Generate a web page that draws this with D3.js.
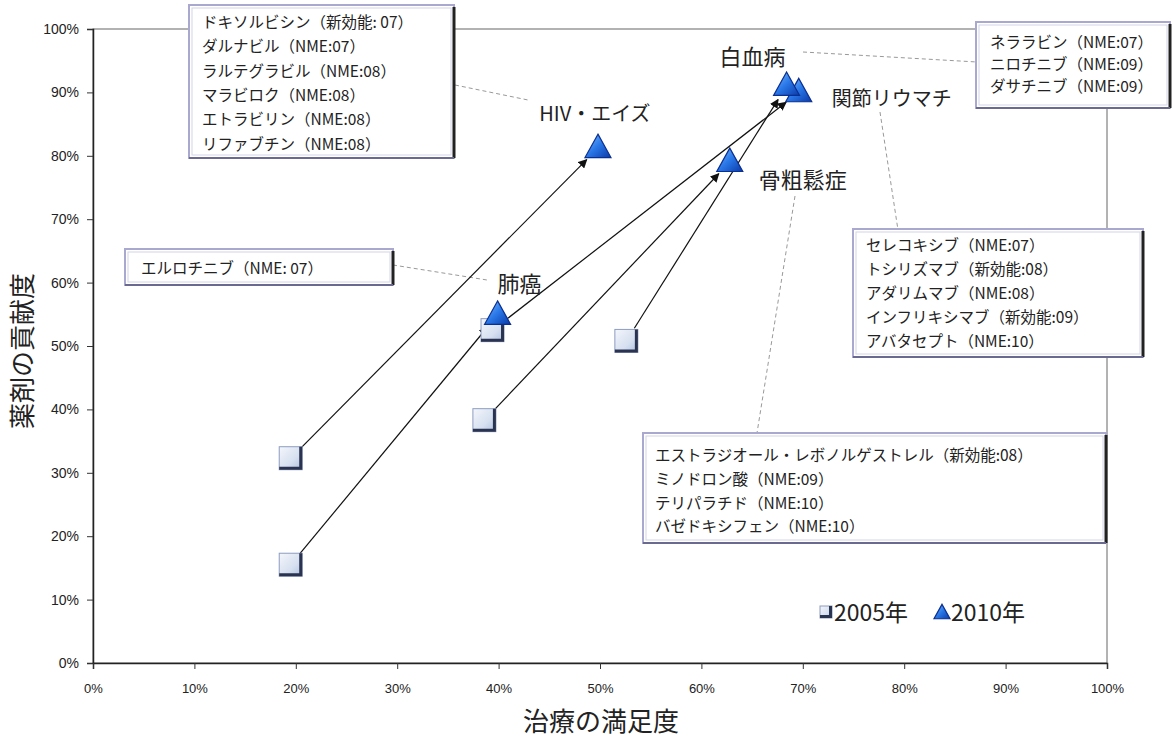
<!DOCTYPE html>
<html><head><meta charset="utf-8">
<script src="https://cdn.jsdelivr.net/npm/d3@7"></script>
<style>body{margin:0;background:#fff}svg{display:block}</style>
</head><body>
<svg id="c" width="1172" height="744"></svg>
<script>
// ---- data ----
const diseases = ["HIV・エイズ", "肺癌", "関節リウマチ", "骨粗鬆症", "白血病"];
const sat2005 = [0.195, 0.195, 0.394, 0.386, 0.526];
const con2005 = [0.323, 0.155, 0.525, 0.383, 0.508];
const sat2010 = [0.498, 0.399, 0.696, 0.628, 0.684];
const con2010 = [0.812, 0.549, 0.900, 0.790, 0.910];
const xTicks = [0, 0.1, 0.2, 0.3, 0.4, 0.5, 0.6, 0.7, 0.8, 0.9, 1.0];
const yTicks = [0, 0.1, 0.2, 0.3, 0.4, 0.5, 0.6, 0.7, 0.8, 0.9, 1.0];
const seriesNames = ["2005年", "2010年"];
const xTitle = "治療の満足度";
const yTitle = "薬剤の貢献度";
const drugsHIV = ["ドキソルビシン（新効能: 07）", "ダルナビル（NME:07）", "ラルテグラビル（NME:08）", "マラビロク（NME:08）", "エトラビリン（NME:08）", "リファブチン（NME:08）"];
const drugsLeuk = ["ネララビン（NME:07）", "ニロチニブ（NME:09）", "ダサチニブ（NME:09）"];
const drugsRA = ["セレコキシブ（NME:07）", "トシリズマブ（新効能:08）", "アダリムマブ（NME:08）", "インフリキシマブ（新効能:09）", "アバタセプト（NME:10）"];
const drugsOsteo = ["エストラジオール・レボノルゲストレル（新効能:08）", "ミノドロン酸（NME:09）", "テリパラチド（NME:10）", "バゼドキシフェン（NME:10）"];
const drugsLung = ["エルロチニブ（NME: 07）"];

// ---- layout ----
const svg = d3.select("#c");
const L = 93, R = 1107, T = 29, B = 663;
const x = d3.scaleLinear().domain([0, 1]).range([L, R]);
const y = d3.scaleLinear().domain([0, 1]).range([B, T]);
const jp = "'Noto Sans CJK JP','Noto Sans',sans-serif";
const lat = "'Liberation Sans',Arial,sans-serif";

const defs = svg.append("defs");
const gs = defs.append("linearGradient").attr("id", "gsq").attr("x1", 0).attr("y1", 0).attr("x2", 1).attr("y2", 1);
gs.append("stop").attr("offset", "0%").attr("stop-color", "#f4f6fb");
gs.append("stop").attr("offset", "60%").attr("stop-color", "#d6e0f0");
gs.append("stop").attr("offset", "100%").attr("stop-color", "#aebfdc");
const gt = defs.append("linearGradient").attr("id", "gtr").attr("x1", 0).attr("y1", 0).attr("x2", 1).attr("y2", 1);
gt.append("stop").attr("offset", "0%").attr("stop-color", "#7fc0ff");
gt.append("stop").attr("offset", "50%").attr("stop-color", "#2a78e8");
gt.append("stop").attr("offset", "100%").attr("stop-color", "#0a3aa8");
defs.append("marker").attr("id", "arr").attr("viewBox", "0 0 10 10").attr("refX", 9).attr("refY", 5)
  .attr("markerWidth", 9).attr("markerHeight", 9).attr("markerUnits", "userSpaceOnUse").attr("orient", "auto")
  .append("path").attr("d", "M0,0 L10,5 L0,10 Z").attr("fill", "#111");

// plot frame
svg.append("rect").attr("x", L).attr("y", T).attr("width", R - L).attr("height", B - T)
  .attr("fill", "none").attr("stroke", "#666").attr("stroke-width", 1);

// axes
const yAxis = d3.axisLeft(y).tickValues(yTicks).tickFormat(d3.format(".0%")).tickSize(6).tickPadding(8);
const gy = svg.append("g").attr("transform", `translate(${L},0)`).call(yAxis);
gy.select(".domain").attr("stroke", "#222").attr("stroke-width", 1.5);
gy.selectAll(".tick line").attr("stroke", "#333");
gy.selectAll("text").attr("font-family", lat).attr("font-size", 14).attr("fill", "#222");

const xAxis = d3.axisBottom(x).tickValues(xTicks).tickFormat(d3.format(".0%")).tickSize(6).tickPadding(15);
const gx = svg.append("g").attr("transform", `translate(0,${B})`).call(xAxis);
gx.select(".domain").attr("stroke", "#222").attr("stroke-width", 1.5);
gx.selectAll(".tick line").attr("stroke", "#333");
gx.selectAll("text").attr("font-family", lat).attr("font-size", 13).attr("fill", "#222");

svg.append("text").attr("x", 601).attr("y", 731).attr("text-anchor", "middle")
  .attr("font-family", jp).attr("font-size", 26).attr("fill", "#222").text(xTitle);
svg.append("text").attr("transform", "translate(32,351) rotate(-90)").attr("text-anchor", "middle")
  .attr("font-family", jp).attr("font-size", 26).attr("fill", "#222").text(yTitle);

// dashed connectors (label -> callout box)
const conn = [[455, 85, 528, 100], [803, 52, 977, 62], [880, 112, 898, 230], [795, 196, 757, 433], [393, 265, 487, 280]];
svg.append("g").selectAll("line").data(conn).join("line")
  .attr("x1", d => d[0]).attr("y1", d => d[1]).attr("x2", d => d[2]).attr("y2", d => d[3])
  .attr("stroke", "#999").attr("stroke-width", 1).attr("stroke-dasharray", "4,3");

// arrows
const idx = d3.range(diseases.length);
svg.append("g").selectAll("line").data(idx).join("line")
  .each(function (i) {
    const x0 = x(sat2005[i]), y0 = y(con2005[i]), x1 = x(sat2010[i]), y1 = y(con2010[i]);
    const dx = x1 - x0, dy = y1 - y0, len = Math.hypot(dx, dy);
    const ux = dx / len, uy = dy / len;
    d3.select(this).attr("x1", x0 + ux * 15).attr("y1", y0 + uy * 15)
      .attr("x2", x1 - ux * 16).attr("y2", y1 - uy * 16);
  })
  .attr("stroke", "#111").attr("stroke-width", 1.2).attr("marker-end", "url(#arr)");

// markers
function square(g, cx, cy, s) {
  g.append("rect").attr("x", cx - s / 2).attr("y", cy - s / 2).attr("width", s).attr("height", s)
    .attr("fill", "url(#gsq)").attr("stroke", "#8d9cc0").attr("stroke-width", 1);
  g.append("path").attr("d", `M${cx + s / 2 - 1.5},${cy - s / 2} V${cy + s / 2 - 1.5} H${cx - s / 2}`)
    .attr("fill", "none").attr("stroke", "#2a3350").attr("stroke-width", 3);
}
function tri(g, cx, cy, s) {
  const h = s * 0.9;
  g.append("path").attr("d", `M${cx},${cy - h * 0.6} L${cx + s / 2},${cy + h * 0.4} L${cx - s / 2},${cy + h * 0.4} Z`)
    .attr("fill", "url(#gtr)").attr("stroke", "#0b2f90").attr("stroke-width", 1.2);
}
const gm = svg.append("g");
idx.forEach(i => square(gm, x(sat2005[i]), y(con2005[i]), 23));
idx.forEach(i => tri(gm, x(sat2010[i]), y(con2010[i]), 26));

// disease labels: [dx, dy, anchor, fontSize]
const labOff = [[-3, -27, "middle", 20], [0, -23, "start", 22], [33, 14, "start", 20], [29, 26, "start", 22], [-67, -21, "start", 22]];
svg.append("g").selectAll("text").data(idx).join("text")
  .attr("x", i => x(sat2010[i]) + labOff[i][0]).attr("y", i => y(con2010[i]) + labOff[i][1])
  .attr("text-anchor", i => labOff[i][2]).attr("font-size", i => labOff[i][3])
  .attr("font-family", jp).attr("fill", "#222").text(i => diseases[i]);

// callout boxes
function box(bx, by, bw, bh, lines, tx, ty, lh) {
  const g = svg.append("g");
  g.append("rect").attr("x", bx).attr("y", by).attr("width", bw).attr("height", bh)
    .attr("fill", "#fff").attr("stroke", "#a9a9cf").attr("stroke-width", 2);
  g.append("rect").attr("x", bx + 3).attr("y", by + 3).attr("width", bw - 6).attr("height", bh - 6)
    .attr("fill", "none").attr("stroke", "#d4d4e8").attr("stroke-width", 1);
  g.append("line").attr("x1", bx + bw).attr("y1", by + 2).attr("x2", bx + bw).attr("y2", by + bh)
    .attr("stroke", "#222").attr("stroke-width", 3);
  g.append("line").attr("x1", bx).attr("y1", by + bh).attr("x2", bx + bw).attr("y2", by + bh)
    .attr("stroke", "#6a6a90").attr("stroke-width", 2);
  g.selectAll("text").data(lines).join("text")
    .attr("x", tx).attr("y", (d, i) => ty + i * lh)
    .attr("font-family", jp).attr("font-size", 15.5).attr("fill", "#222").text(d => d);
}
box(189, 5, 265, 153, drugsHIV, 202, 28, 24.3);
box(976, 22, 194, 86, drugsLeuk, 990, 48, 22);
box(853, 229, 290, 128, drugsRA, 866, 251, 24);
box(643, 433, 463, 110, drugsOsteo, 655, 461, 23.8);
box(125, 249, 268, 36, drugsLung, 141, 274, 0);

// legend
const lg = svg.append("g");
square(lg, 826, 612, 12);
lg.append("text").attr("x", 834).attr("y", 621).attr("font-family", jp).attr("font-size", 23).attr("fill", "#222").text(seriesNames[0]);
tri(lg, 942, 613, 16);
lg.append("text").attr("x", 951).attr("y", 621).attr("font-family", jp).attr("font-size", 23).attr("fill", "#222").text(seriesNames[1]);
</script>
</body></html>
